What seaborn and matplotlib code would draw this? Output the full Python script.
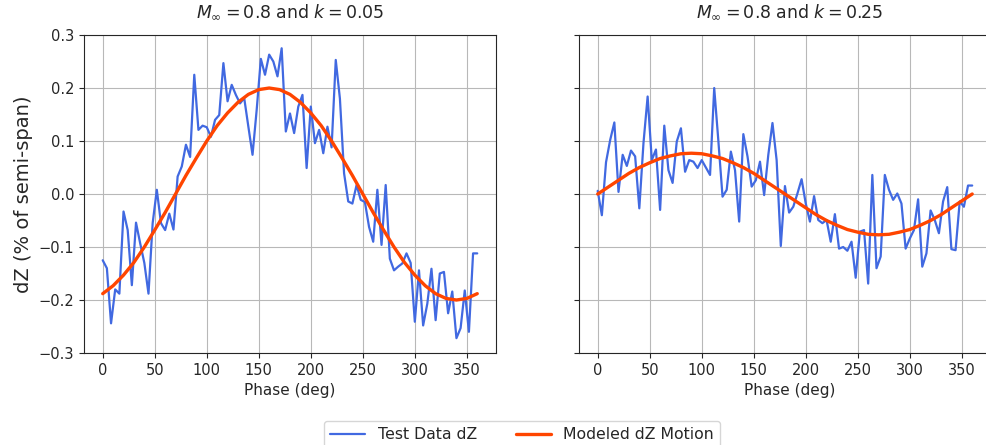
import numpy as np
import seaborn as sns
import matplotlib.pyplot as plt

# Phase grid of the measurements (deg)
phase = np.arange(0, 361, 4)

# Test data dZ, k = 0.05
dz_k005 = [
    -0.125, -0.140, -0.244, -0.180, -0.188, -0.033, -0.068, -0.172, -0.054, -0.093,
    -0.130, -0.188, -0.055, 0.008, -0.055, -0.068, -0.037, -0.067, 0.033, 0.052,
    0.093, 0.070, 0.225, 0.121, 0.129, 0.126, 0.108, 0.140, 0.149, 0.247,
    0.175, 0.206, 0.187, 0.171, 0.181, 0.127, 0.074, 0.159, 0.255, 0.225,
    0.263, 0.250, 0.222, 0.275, 0.118, 0.152, 0.115, 0.165, 0.187, 0.049,
    0.165, 0.096, 0.121, 0.077, 0.127, 0.088, 0.253, 0.180, 0.039, -0.014,
    -0.018, 0.017, -0.011, -0.015, -0.062, -0.090, 0.008, -0.096, 0.017, -0.122,
    -0.144, -0.137, -0.131, -0.112, -0.130, -0.241, -0.144, -0.248, -0.207, -0.141,
    -0.238, -0.150, -0.147, -0.225, -0.184, -0.272, -0.253, -0.182, -0.260, -0.112,
    -0.112,
]

# Test data dZ, k = 0.25
dz_k025 = [
    0.006, -0.040, 0.060, 0.102, 0.135, 0.004, 0.074, 0.053, 0.082, 0.071,
    -0.027, 0.096, 0.184, 0.064, 0.084, -0.030, 0.129, 0.045, 0.021, 0.099,
    0.124, 0.042, 0.064, 0.061, 0.049, 0.064, 0.050, 0.036, 0.200, 0.100,
    -0.005, 0.008, 0.080, 0.045, -0.052, 0.113, 0.071, 0.014, 0.026, 0.061,
    -0.002, 0.074, 0.134, 0.064, -0.098, 0.015, -0.035, -0.024, 0.001, 0.028,
    -0.018, -0.052, -0.004, -0.049, -0.055, -0.049, -0.090, -0.038, -0.103, -0.100,
    -0.107, -0.090, -0.158, -0.071, -0.068, -0.169, 0.036, -0.140, -0.118, 0.036,
    0.008, -0.011, 0.001, -0.018, -0.103, -0.084, -0.068, -0.010, -0.137, -0.112,
    -0.031, -0.049, -0.074, -0.014, 0.013, -0.104, -0.106, -0.014, -0.024, 0.016,
    0.016,
]

model_phase = [0, 10, 20, 30, 40, 50, 60, 70, 80, 90, 100, 110, 120, 130, 140, 150, 160, 170,
               180, 190, 200, 210, 220, 230, 240, 250, 260, 270, 280, 290, 300, 310, 320,
               330, 340, 350, 360]
model_k005 = [-0.188, -0.173, -0.153, -0.129, -0.100, -0.068, -0.035, 0.000, 0.035, 0.068,
              0.100, 0.129, 0.153, 0.173, 0.188, 0.197, 0.200, 0.197, 0.188, 0.173, 0.153,
              0.129, 0.100, 0.068, 0.035, 0.000, -0.035, -0.068, -0.100, -0.129, -0.153,
              -0.173, -0.188, -0.197, -0.200, -0.197, -0.188]
model_k025 = [0.000, 0.013, 0.026, 0.039, 0.050, 0.059, 0.067, 0.072, 0.076, 0.077,
              0.076, 0.072, 0.067, 0.059, 0.050, 0.039, 0.026, 0.013, 0.000, -0.013, -0.026,
              -0.039, -0.050, -0.059, -0.067, -0.072, -0.076, -0.077, -0.076, -0.072, -0.067,
              -0.059, -0.050, -0.039, -0.026, -0.013, 0.000]

titles = [r"$M_{\infty} = 0.8$ and $k = 0.05$", r"$M_{\infty} = 0.8$ and $k = 0.25$"]

sns.set_style("ticks", {"axes.grid": True, "grid.color": "0.72", "axes.edgecolor": "0.15"})
plt.rcParams["font.family"] = ["DejaVu Sans"]

fig, axes = plt.subplots(1, 2, sharey=True, figsize=(9.87, 4.45), dpi=100)
axes[0].set_position([0.0851, 0.2067, 0.4174, 0.7146])
# right panel runs off the right edge of the picture, as in the original
axes[1].set_position([0.5866, 0.2067, 0.4275, 0.7146])

for ax, data, model, title in zip(axes, [dz_k005, dz_k025], [model_k005, model_k025], titles):
    sns.lineplot(x=phase, y=data, ax=ax, color="royalblue", lw=1.6, label="Test Data dZ")
    sns.lineplot(x=model_phase, y=model, ax=ax, color="orangered", lw=2.4,
                 label="Modeled dZ Motion")
    ax.set_title(title, fontsize=12.5, pad=12.5)
    ax.set_xlabel("Phase (deg)", fontsize=11)
    ax.set_ylim(-0.3, 0.3)
    ax.set_xticks(range(0, 351, 50))
    ax.set_yticks([-0.3, -0.2, -0.1, 0.0, 0.1, 0.2, 0.3])
    ax.tick_params(labelsize=10.5)
    ax.get_legend().remove()

axes[0].set_xlim(-18, 378)
axes[1].set_xlim(-18, 387.6)

axes[0].set_ylabel("dZ (% of semi-span)", fontsize=14)

handles, labels = axes[0].get_legend_handles_labels()
fig.legend(handles, labels, loc="upper center", bbox_to_anchor=(0.529, 0.054), ncol=2,
           fontsize=11.3, frameon=True, borderaxespad=0, handlelength=2.2,
           columnspacing=2.5)

plt.savefig("out.png", dpi=100)
